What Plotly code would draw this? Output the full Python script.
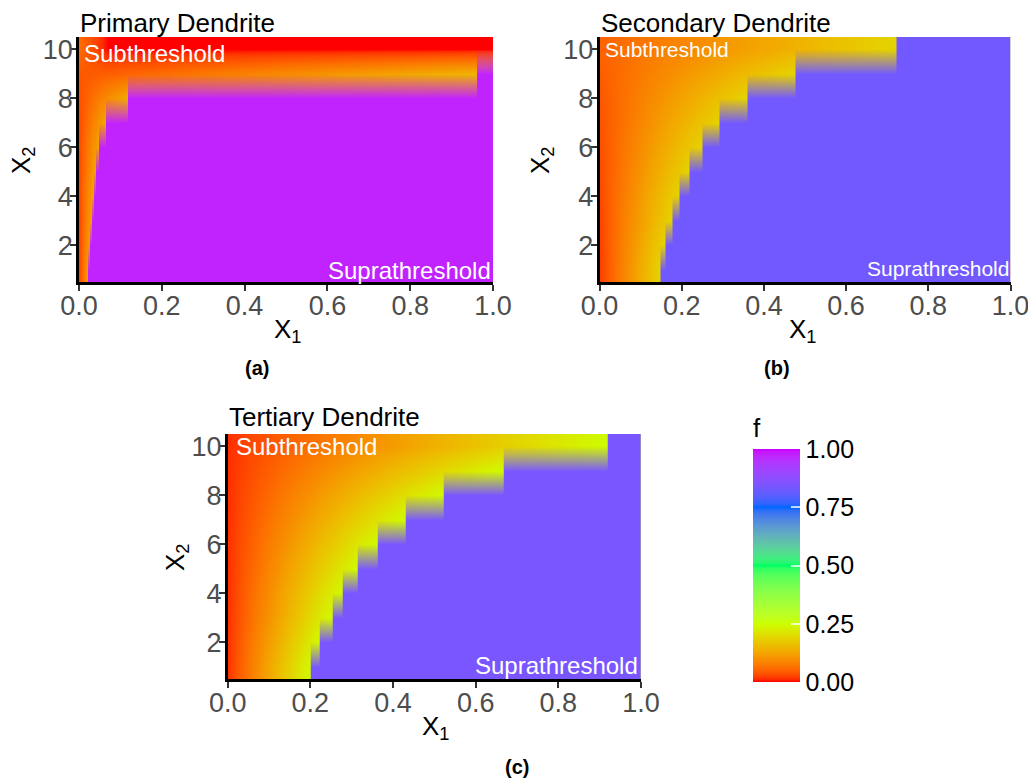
import numpy as np
import plotly.graph_objects as go

# ---------------- data ----------------
X2_ROWS = [1, 2, 3, 4, 5, 6, 7, 8, 9, 10]

X1_TICKS = [0.0, 0.2, 0.4, 0.6, 0.8, 1.0]
X1_TICK_LABELS = ["0.0", "0.2", "0.4", "0.6", "0.8", "1.0"]
X2_TICKS = [2, 4, 6, 8, 10]
X2_TICK_LABELS = ["2", "4", "6", "8", "10"]
F_TICKS = [0.0, 0.25, 0.5, 0.75, 1.0]
F_TICK_LABELS = ["0.00", "0.25", "0.50", "0.75", "1.00"]

# Primary dendrite: x1 where each x2 row turns suprathreshold (None = never)
PRI_THRESH = [0.022, 0.026, 0.030, 0.035, 0.040, 0.047, 0.065, 0.118, 0.960, None]
PRI_RAMP_END_X = [0.022, 0.026, 0.030, 0.035, 0.040, 0.047, 0.065, 0.118, 0.960, 0.070]
PRI_SUB_START = [0.025, 0.025, 0.025, 0.03, 0.03, 0.03, 0.03, 0.035, 0.04, 0.06]
PRI_SUB_END = [0.12, 0.12, 0.12, 0.125, 0.125, 0.125, 0.13, 0.135, 0.145, 0.0]
PRI_SUPRA = 0.975

# Secondary dendrite
SEC_THRESH = [0.149, 0.161, 0.178, 0.194, 0.218, 0.250, 0.292, 0.360, 0.476, 0.722]
SEC_RAMP_END_X = SEC_THRESH
SEC_SUB_START = [0.02, 0.022, 0.025, 0.028, 0.03, 0.033, 0.036, 0.04, 0.045, 0.05]
SEC_SUB_END = [0.19, 0.19, 0.19, 0.19, 0.19, 0.19, 0.19, 0.19, 0.19, 0.19]
SEC_SUPRA = 0.832

# Tertiary dendrite
TER_THRESH = [0.200, 0.223, 0.253, 0.278, 0.315, 0.363, 0.429, 0.522, 0.667, 0.918]
TER_RAMP_END_X = TER_THRESH
TER_SUB_START = [0.013] * 10
TER_SUB_END = [0.245] * 10
TER_SUPRA = 0.842

TITLES = ["Primary Dendrite", "Secondary Dendrite", "Tertiary Dendrite"]
PANEL_TAGS = ["(a)", "(b)", "(c)"]

# ---------------- colour scale: rainbow(5) interpolated in CIELAB ----------------
RAINBOW = ["#FF0000", "#CCFF00", "#00FF66", "#0066FF", "#CC00FF"]
WHITE = (0.95047, 1.0, 1.08883)


def _lin(c):
    return c / 12.92 if c <= 0.04045 else ((c + 0.055) / 1.055) ** 2.4


def _gam(c):
    return 12.92 * c if c <= 0.0031308 else 1.055 * c ** (1 / 2.4) - 0.055


def hex_to_lab(h):
    r, g, b = [_lin(int(h[i:i + 2], 16) / 255) for i in (1, 3, 5)]
    X = 0.4124 * r + 0.3576 * g + 0.1805 * b
    Y = 0.2126 * r + 0.7152 * g + 0.0722 * b
    Z = 0.0193 * r + 0.1192 * g + 0.9505 * b

    def f(t):
        return t ** (1 / 3) if t > 216 / 24389 else (24389 / 27 * t + 16) / 116
    fx, fy, fz = f(X / WHITE[0]), f(Y / WHITE[1]), f(Z / WHITE[2])
    return np.array([116 * fy - 16, 500 * (fx - fy), 200 * (fy - fz)])


def lab_to_rgb(lab):
    L, a, b = lab
    fy = (L + 16) / 116
    fx = fy + a / 500
    fz = fy - b / 200

    def fi(t):
        return t ** 3 if t ** 3 > 216 / 24389 else (116 * t - 16) / (24389 / 27)
    X, Y, Z = fi(fx) * WHITE[0], fi(fy) * WHITE[1], fi(fz) * WHITE[2]
    r = 3.2406 * X - 1.5372 * Y - 0.4986 * Z
    g = -0.9689 * X + 1.8758 * Y + 0.0415 * Z
    bb = 0.0557 * X - 0.2040 * Y + 1.0570 * Z
    return [int(round(255 * min(1, max(0, _gam(min(1, max(0, c))))))) for c in (r, g, bb)]


LABS = [hex_to_lab(h) for h in RAINBOW]


def scale_rgb(t):
    seg = min(int(t * 4), 3)
    loc = t * 4 - seg
    return lab_to_rgb(LABS[seg] + loc * (LABS[seg + 1] - LABS[seg]))


NSTEP = 80
COLORSCALE = [[i / NSTEP, "rgb(%d,%d,%d)" % tuple(scale_rgb(i / NSTEP))] for i in range(NSTEP + 1)]

# ---------------- geometry helpers ----------------
W, H = 1028, 779


def px(x):
    return x / W


def py(y):
    return 1 - y / H


FONT = "Liberation Sans, Arial, Helvetica, sans-serif"
EPS = 0.0006

PANELS = [
    dict(thr=PRI_THRESH, rx=PRI_RAMP_END_X, s0=PRI_SUB_START, s1=PRI_SUB_END, sup=PRI_SUPRA,
         dom_x=[px(79), px(493)], dom_y=[py(282), py(37)]),
    dict(thr=SEC_THRESH, rx=SEC_RAMP_END_X, s0=SEC_SUB_START, s1=SEC_SUB_END, sup=SEC_SUPRA,
         dom_x=[px(599.5), px(1010.5)], dom_y=[py(282), py(37)]),
    dict(thr=TER_THRESH, rx=TER_RAMP_END_X, s0=TER_SUB_START, s1=TER_SUB_END, sup=TER_SUPRA,
         dom_x=[px(227.7), px(641)], dom_y=[py(679), py(434)]),
]

fig = go.Figure()

for k, p in enumerate(PANELS):
    sfx = "" if k == 0 else str(k + 1)
    xa, ya = "x" + sfx, "y" + sfx
    # smooth subthreshold field (table built from the read ramps)
    knots = sorted(set([0.0, 1.0] + list(p["rx"])))
    zsub = [[float(v) for v in np.interp(knots, [0.0, p["rx"][r]], [p["s0"][r], p["s1"][r]])]
            for r in range(len(X2_ROWS))]
    fig.add_trace(go.Heatmap(x=knots, y=X2_ROWS, z=zsub, zsmooth="best",
                             coloraxis="coloraxis", xaxis=xa, yaxis=ya, hoverinfo="skip"))
    # suprathreshold region: an opaque layer of the f = SUPRA colour,
    # bilinearly blended between the x2 rows (like an interpolated raster)
    thr_list = [v for v in p["thr"] if v is not None]
    mknots = sorted(set([0.0, 1.0] + [v - EPS for v in thr_list] + [v + EPS for v in thr_list]))
    zmask = []
    for r in range(len(X2_ROWS)):
        t = p["thr"][r]
        zmask.append([1.0 if (t is not None and xk >= t) else 0.0 for xk in mknots])
    c = scale_rgb(p["sup"])
    mask_scale = [[0, "rgba(%d,%d,%d,0)" % tuple(c)], [1, "rgba(%d,%d,%d,1)" % tuple(c)]]
    fig.add_trace(go.Heatmap(x=mknots, y=X2_ROWS, z=zmask, zsmooth="best", zmin=0, zmax=1,
                             colorscale=mask_scale, showscale=False,
                             xaxis=xa, yaxis=ya, hoverinfo="skip"))

axis_common = dict(showline=True, linecolor="black", linewidth=2.5, ticks="outside",
                   ticklen=6, tickwidth=2.2, tickcolor="#333333",
                   tickfont=dict(size=27, color="#4D4D4D", family=FONT),
                   showgrid=False, zeroline=False)

layout = dict(
    width=W, height=H, paper_bgcolor="white", plot_bgcolor="white",
    margin=dict(l=0, r=0, t=0, b=0, autoexpand=False),
    font=dict(family=FONT, color="black"),
    showlegend=False,
    coloraxis=dict(
        colorscale=COLORSCALE, cmin=0, cmax=1,
        colorbar=dict(
            x=px(753), xanchor="left", xpad=0, y=py(548), yanchor="middle", ypad=0,
            len=268 / H, lenmode="fraction", thickness=47, thicknessmode="pixels",
            outlinewidth=0, tickvals=F_TICKS, ticktext=F_TICK_LABELS,
            ticks="inside", ticklen=9, tickwidth=1.5, tickcolor="rgba(255,255,255,0.75)",
            tickfont=dict(size=25, color="black", family=FONT),
            title=dict(text="f", side="top", font=dict(size=26, color="black", family=FONT)),
        ),
    ),
)

annotations = []
for k, p in enumerate(PANELS):
    sfx = "" if k == 0 else str(k + 1)
    layout["xaxis" + sfx] = dict(axis_common, domain=p["dom_x"], range=[0, 1],
                                 tickvals=X1_TICKS, ticktext=X1_TICK_LABELS,
                                 anchor="y" + sfx, ticklabelstandoff=-8,
                                 ticklabeloverflow="allow")
    layout["yaxis" + sfx] = dict(axis_common, domain=p["dom_y"], range=[0.5, 10.5],
                                 tickvals=X2_TICKS, ticktext=X2_TICK_LABELS,
                                 anchor="x" + sfx, ticklabelstandoff=-8)

# titles, axis titles, panel tags (pixel positions)
TITLE_POS = [(78, 23), (599, 23), (227, 417)]
X1_TITLE_POS = [(287, 330), (802, 330), (435, 727)]
X2_TITLE_POS = [(23, 161), (542, 161), (176, 558)]
TAG_POS = [(257, 368), (777, 368), (517, 767)]
SUB_POS = [(0.008, 9.84), (0.008, 10.0), (0.016, 9.97)]
SUP_POS = [(1.0, 0.98), (1.0, 1.06), (0.998, 1.06)]
ANN_SIZE = [24, 21, 24]

for k in range(3):
    sfx = "" if k == 0 else str(k + 1)
    annotations.append(dict(text=TITLES[k], x=px(TITLE_POS[k][0]), y=py(TITLE_POS[k][1]),
                            xref="paper", yref="paper", xanchor="left", yanchor="middle",
                            showarrow=False, font=dict(size=26, color="black", family=FONT)))
    annotations.append(dict(text="X<sub>1</sub>", x=px(X1_TITLE_POS[k][0]), y=py(X1_TITLE_POS[k][1]),
                            xref="paper", yref="paper", xanchor="center", yanchor="middle",
                            showarrow=False, font=dict(size=26, color="black", family=FONT)))
    annotations.append(dict(text="X<sub>2</sub>", x=px(X2_TITLE_POS[k][0]), y=py(X2_TITLE_POS[k][1]),
                            xref="paper", yref="paper", xanchor="center", yanchor="middle",
                            textangle=-90, showarrow=False,
                            font=dict(size=26, color="black", family=FONT)))
    annotations.append(dict(text="<b>" + PANEL_TAGS[k] + "</b>", x=px(TAG_POS[k][0]), y=py(TAG_POS[k][1]),
                            xref="paper", yref="paper", xanchor="center", yanchor="middle",
                            showarrow=False, font=dict(size=20, color="black", family=FONT)))
    annotations.append(dict(text="Subthreshold", x=SUB_POS[k][0], y=SUB_POS[k][1],
                            xref="x" + sfx, yref="y" + sfx, xanchor="left", yanchor="middle",
                            showarrow=False, font=dict(size=ANN_SIZE[k], color="white", family=FONT)))
    annotations.append(dict(text="Suprathreshold", x=SUP_POS[k][0], y=SUP_POS[k][1],
                            xref="x" + sfx, yref="y" + sfx, xanchor="right", yanchor="middle",
                            showarrow=False, font=dict(size=ANN_SIZE[k], color="white", family=FONT)))

layout["annotations"] = annotations
fig.update_layout(**layout)
fig.write_html("out.html", config={"displayModeBar": False},
               post_script="document.body.style.margin='0';document.body.style.overflow='hidden';")
